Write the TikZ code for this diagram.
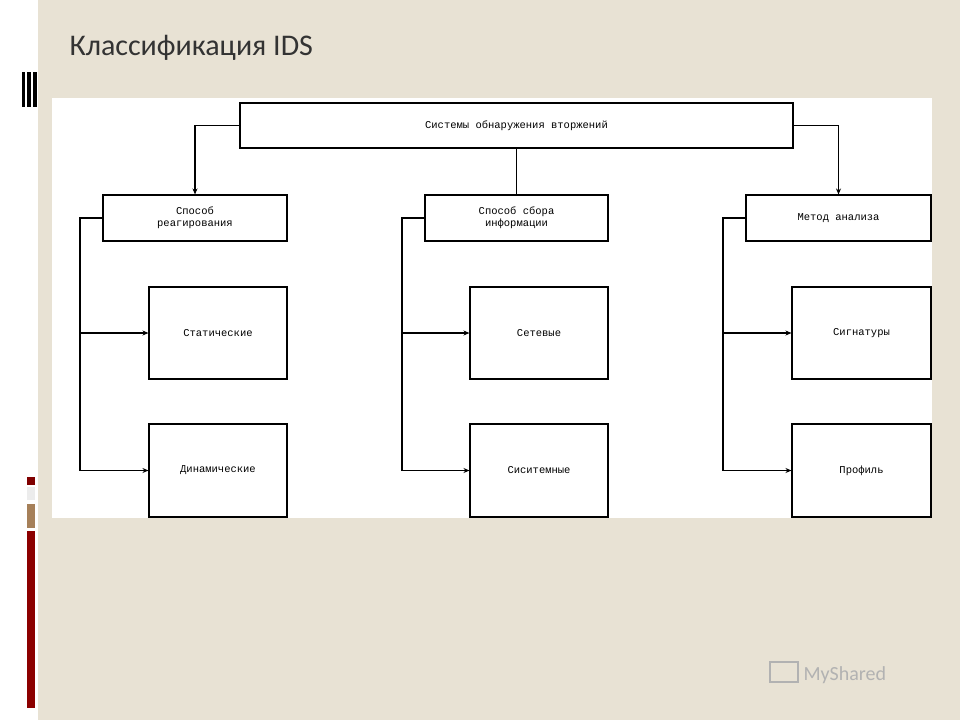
\documentclass[tikz,border=0pt]{standalone}
\usepackage{fontspec}
\usetikzlibrary{arrows.meta}
\setmainfont{Carlito}
\newfontfamily\monof{Liberation Mono}
\definecolor{bgbeige}{RGB}{232,226,212}
\begin{document}
\begin{tikzpicture}[x=1pt,y=-1pt,
  bx/.style={draw=black,line width=1.1pt,fill=white,font=\monof\fontsize{10.5}{12}\selectfont,align=center,inner sep=0pt},
  ln/.style={line width=1.1pt},
  ar/.style={line width=1.1pt,-{Stealth[length=6pt,width=5pt]}}]
\useasboundingbox (0,0) rectangle (960,720);
\fill[white] (0,0) rectangle (960,720);
\fill[bgbeige] (38,0) rectangle (960,720);
\fill[white] (52,98) rectangle (932,518);
% left decoration
\fill[black] (22,72) rectangle (25,107); \fill[black] (27,72) rectangle (31,107); \fill[black] (33,72) rectangle (37,107);
\fill[red!50!black] (27,477) rectangle (35,485);
\fill[gray!15] (27,487) rectangle (35,500);
\fill[brown!60!gray] (27,504) rectangle (35,528);
\fill[red!55!black] (27,531) rectangle (35,708);
% title
\node[anchor=west,text=gray!40!black,font=\fontsize{30}{34}\selectfont] (title) at (66,48) {Классификация IDS};
% boxes
\node[bx,minimum width=553,minimum height=45] (top) at (516.5,125.5) {Системы обнаружения вторжений};
\node[bx,minimum width=184,minimum height=46] (l2a) at (195,218) {Способ\\реагирования};
\node[bx,minimum width=183,minimum height=46] (l2b) at (516.5,218) {Способ сбора\\информации};
\node[bx,minimum width=185,minimum height=46] (l2c) at (838.5,218) {Метод анализа};
\node[bx,minimum width=138,minimum height=92] (a1) at (218,333) {Статические};
\node[bx,minimum width=138,minimum height=93] (a2) at (218,470.5) {Динамические};
\node[bx,minimum width=138,minimum height=92] (b1) at (539,333) {Сетевые};
\node[bx,minimum width=138,minimum height=93] (b2) at (539,470.5) {Сиситемные};
\node[bx,minimum width=139,minimum height=92] (c1) at (861.5,333) {Сигнатуры};
\node[bx,minimum width=139,minimum height=93] (c2) at (861.5,470.5) {Профиль};
% connectors
\draw[ar] (top.west) -| (l2a.north);
\draw[ln] (top.south) -- (l2b.north);
\draw[ar] (top.east) -| (l2c.north);
\coordinate (ja) at (80,218); \coordinate (jb) at (402,218); \coordinate (jc) at (723,218);
\coordinate (ja2) at (80,470.5); \coordinate (jb2) at (402,470.5); \coordinate (jc2) at (723,470.5);
\draw[ln] (l2a.west) -- (ja) -- (ja2);
\draw[ln] (l2b.west) -- (jb) -- (jb2);
\draw[ln] (l2c.west) -- (jc) -- (jc2);
\draw[ar] (ja |- a1.west) -- (a1.west);
\draw[ar] (ja2) -- (a2.west);
\draw[ar] (jb |- b1.west) -- (b1.west);
\draw[ar] (jb2) -- (b2.west);
\draw[ar] (jc |- c1.west) -- (c1.west);
\draw[ar] (jc2) -- (c2.west);
% logo
\node[anchor=west,text=gray!60,font=\fontsize{20}{24}\selectfont] (logo) at (800,675) {MyShared};
\draw[gray!60,line width=2pt] (770,662) rectangle (798,682);
\end{tikzpicture}
\end{document}
